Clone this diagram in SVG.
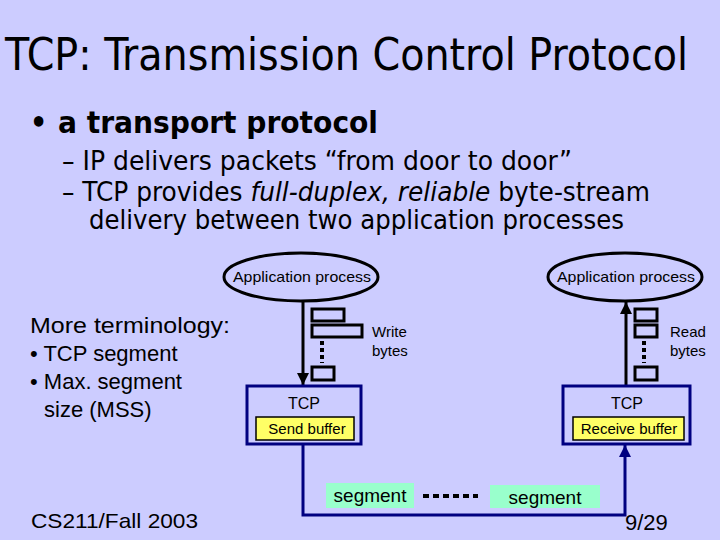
<svg xmlns="http://www.w3.org/2000/svg" width="720" height="540" viewBox="0 0 720 540">
<defs>
<style>
.t{font-family:"DejaVu Sans Condensed","Liberation Sans",sans-serif;fill:#000}
.s{font-family:"Liberation Sans",Arial,sans-serif;fill:#000}
.sr{fill:#ccccff;stroke:#000;stroke-width:3}
.box{fill:#ccccff;stroke:#000080;stroke-width:3}
.buf{fill:#ffff66;stroke:#000;stroke-width:1.5}
.seg{fill:#99ffcc}
</style>
<marker id="ab" viewBox="0 0 10 10" refX="10" refY="5" markerWidth="4" markerHeight="4" orient="auto"><path d="M0,0L10,5L0,10z" fill="#000"/></marker>
<marker id="ab2" viewBox="0 0 10 10" refX="10" refY="5" markerWidth="4" markerHeight="4" orient="auto"><path d="M0,0L10,5L0,10z" fill="#000080"/></marker>
</defs>
<rect width="720" height="540" fill="#ccccff"/>
<text class="t" x="5" y="70" font-size="44" textLength="683" lengthAdjust="spacingAndGlyphs">TCP: Transmission Control Protocol</text>
<text class="t" x="30" y="133" font-size="30" font-weight="bold">•</text>
<text class="t" x="58" y="133" font-size="30" font-weight="bold" textLength="320" lengthAdjust="spacingAndGlyphs">a transport protocol</text>
<text class="t" x="62" y="170" font-size="26" textLength="510" lengthAdjust="spacingAndGlyphs">– IP delivers packets “from door to door”</text>
<text class="t" x="62" y="201" font-size="26" textLength="588" lengthAdjust="spacingAndGlyphs">– TCP provides <tspan font-style="italic">full-duplex, reliable</tspan> byte-stream</text>
<text class="t" x="89" y="229" font-size="26" textLength="535" lengthAdjust="spacingAndGlyphs">delivery between two application processes</text>
<text class="s" x="30" y="333" font-size="22" textLength="200" lengthAdjust="spacingAndGlyphs">More terminology:</text>
<text class="s" x="30" y="361" font-size="22">• TCP segment</text>
<text class="s" x="30" y="389" font-size="22">• Max. segment</text>
<text class="s" x="44" y="417" font-size="22">size (MSS)</text>
<text class="s" x="31" y="528" font-size="21" textLength="167" lengthAdjust="spacingAndGlyphs">CS211/Fall 2003</text>
<text class="s" x="625" y="530" font-size="22">9/29</text>
<g id="connectors">
<line x1="303" y1="302" x2="303" y2="385" stroke="#000" stroke-width="3" marker-end="url(#ab)"/>
<line x1="626" y1="386" x2="626" y2="302" stroke="#000" stroke-width="3" marker-end="url(#ab)"/>
<polyline points="303,444 303,515 625,515 625,445" fill="none" stroke="#000080" stroke-width="3" marker-end="url(#ab2)"/>
<line x1="423" y1="496" x2="478" y2="496" stroke="#000" stroke-width="4" stroke-dasharray="6,4"/>
</g>
<g id="app-left"><ellipse cx="301" cy="277" rx="77" ry="24" fill="#ccccff" stroke="#000" stroke-width="3"/><text class="s" x="302" y="282" font-size="15" text-anchor="middle" textLength="138" lengthAdjust="spacingAndGlyphs">Application process</text></g>
<g id="app-right"><ellipse cx="625" cy="277" rx="77" ry="24" fill="#ccccff" stroke="#000" stroke-width="3"/><text class="s" x="626" y="282" font-size="15" text-anchor="middle" textLength="138" lengthAdjust="spacingAndGlyphs">Application process</text></g>
<g id="write-bytes">
<rect class="sr" x="312" y="309" width="32" height="12"/><rect class="sr" x="312" y="325" width="50" height="12"/>
<line x1="322" y1="341" x2="322" y2="363" stroke="#000" stroke-width="4" stroke-dasharray="4,3"/>
<rect class="sr" x="312" y="367" width="22" height="13"/>
<text class="s" x="372" y="337" font-size="15">Write</text><text class="s" x="372" y="356" font-size="15">bytes</text>
</g>
<g id="read-bytes">
<rect class="sr" x="635" y="309" width="22" height="12"/><rect class="sr" x="635" y="325" width="22" height="12"/>
<line x1="644" y1="341" x2="644" y2="363" stroke="#000" stroke-width="4" stroke-dasharray="4,3"/>
<rect class="sr" x="635" y="367" width="22" height="13"/>
<text class="s" x="670" y="337" font-size="15">Read</text><text class="s" x="670" y="356" font-size="15">bytes</text>
</g>
<g id="tcp-left"><rect class="box" x="247" y="386" width="114" height="58"/><text class="s" x="304" y="409" font-size="16" text-anchor="middle">TCP</text>
<rect class="buf" x="256" y="417" width="98" height="23"/><text class="s" x="307" y="434" font-size="15" text-anchor="middle">Send buffer</text></g>
<g id="tcp-right"><rect class="box" x="563" y="386" width="127" height="58"/><text class="s" x="627" y="409" font-size="16" text-anchor="middle">TCP</text>
<rect class="buf" x="573" y="417" width="111" height="23"/><text class="s" x="629" y="434" font-size="15" text-anchor="middle">Receive buffer</text></g>
<g id="seg-left"><rect class="seg" x="326" y="483" width="88" height="25"/><text class="s" x="370" y="502" font-size="19" text-anchor="middle">segment</text></g>
<g id="seg-right"><rect class="seg" x="490" y="485" width="110" height="23"/><text class="s" x="545" y="504" font-size="19" text-anchor="middle">segment</text></g>
</svg>
